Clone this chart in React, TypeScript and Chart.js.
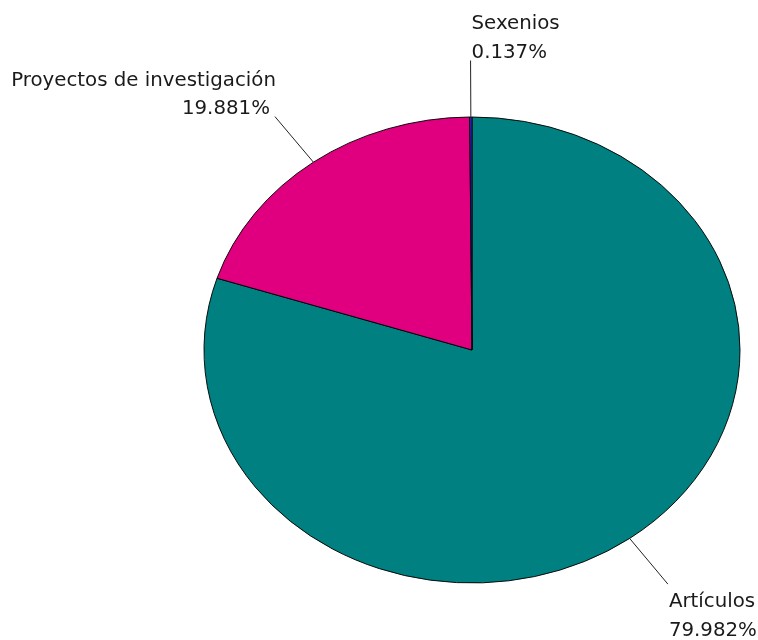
import React, { useEffect, useRef } from "react";
import { Chart, registerables } from "chart.js";

Chart.register(...registerables);

const categories = ["Artículos", "Proyectos de investigación", "Sexenios"];
const values = [79.982, 19.881, 0.137];
const percentLabels = ["79.982%", "19.881%", "0.137%"];
const colors = ["#008080", "#E0007F", "#2B2BD6"];

const RX = 268;
const RY = 233;
const K = RY / RX;
const LEADER = 65;

const ellipsePlugin = {
  id: "ellipse",
  beforeDatasetsDraw(chart: any) {
    const meta = chart.getDatasetMeta(0);
    const arc = meta.data[0];
    if (!arc) return;
    const ctx = chart.ctx;
    ctx.save();
    ctx.translate(arc.x, arc.y);
    ctx.scale(1, K);
    ctx.translate(-arc.x, -arc.y);
  },
  afterDatasetsDraw(chart: any) {
    chart.ctx.restore();
  },
  afterDraw(chart: any) {
    const ctx = chart.ctx;
    const meta = chart.getDatasetMeta(0);
    ctx.save();
    ctx.font = "19.8px 'DejaVu Sans'";
    ctx.fillStyle = "#1a1a1a";
    ctx.strokeStyle = "#222";
    ctx.lineWidth = 1;
    meta.data.forEach((a: any, i: number) => {
      const mid = (a.startAngle + a.endAngle) / 2;
      const c = Math.cos(mid);
      const s = Math.sin(mid);
      const R = a.outerRadius;
      const x0 = a.x + R * c;
      const y0 = a.y + R * s * K;
      const x1 = a.x + (R + LEADER) * c;
      const y1 = a.y + (R + LEADER) * s * K;
      ctx.beginPath();
      ctx.moveTo(x0, y0);
      ctx.lineTo(x1, y1);
      ctx.stroke();
      const b1 = s < 0 ? y1 - 31 : y1 + 23;
      const b2 = b1 + 28.5;
      ctx.textBaseline = "alphabetic";
      if (c < -0.1) {
        ctx.textAlign = "right";
        ctx.fillText(categories[i], x1 + 1, b1);
        ctx.fillText(percentLabels[i], x1 - 5, b2);
      } else {
        ctx.textAlign = "left";
        ctx.fillText(categories[i], x1 + 1, b1);
        ctx.fillText(percentLabels[i], x1 + 1, b2);
      }
    });
    ctx.restore();
  },
};

export default function App() {
  const ref = useRef<HTMLCanvasElement>(null);
  useEffect(() => {
    document.body.style.margin = "0";
    const cx = 472;
    const cy = 350;
    const half = RX + 0.5;
    const chart = new Chart(ref.current!, {
      type: "pie",
      data: {
        labels: categories,
        datasets: [
          {
            data: values,
            backgroundColor: colors,
            borderColor: "#000",
            borderWidth: 1,
          },
        ],
      },
      options: {
        responsive: false,
        animation: false,
        layout: {
          padding: {
            left: cx - half,
            right: 758 - (cx + half),
            top: cy - half,
            bottom: 640 - (cy + half),
          },
        },
        plugins: {
          legend: { display: false },
          tooltip: { enabled: false },
        },
      },
      plugins: [ellipsePlugin],
    });
    return () => chart.destroy();
  }, []);
  return <canvas ref={ref} width={758} height={640} style={{ display: "block" }} />;
}
